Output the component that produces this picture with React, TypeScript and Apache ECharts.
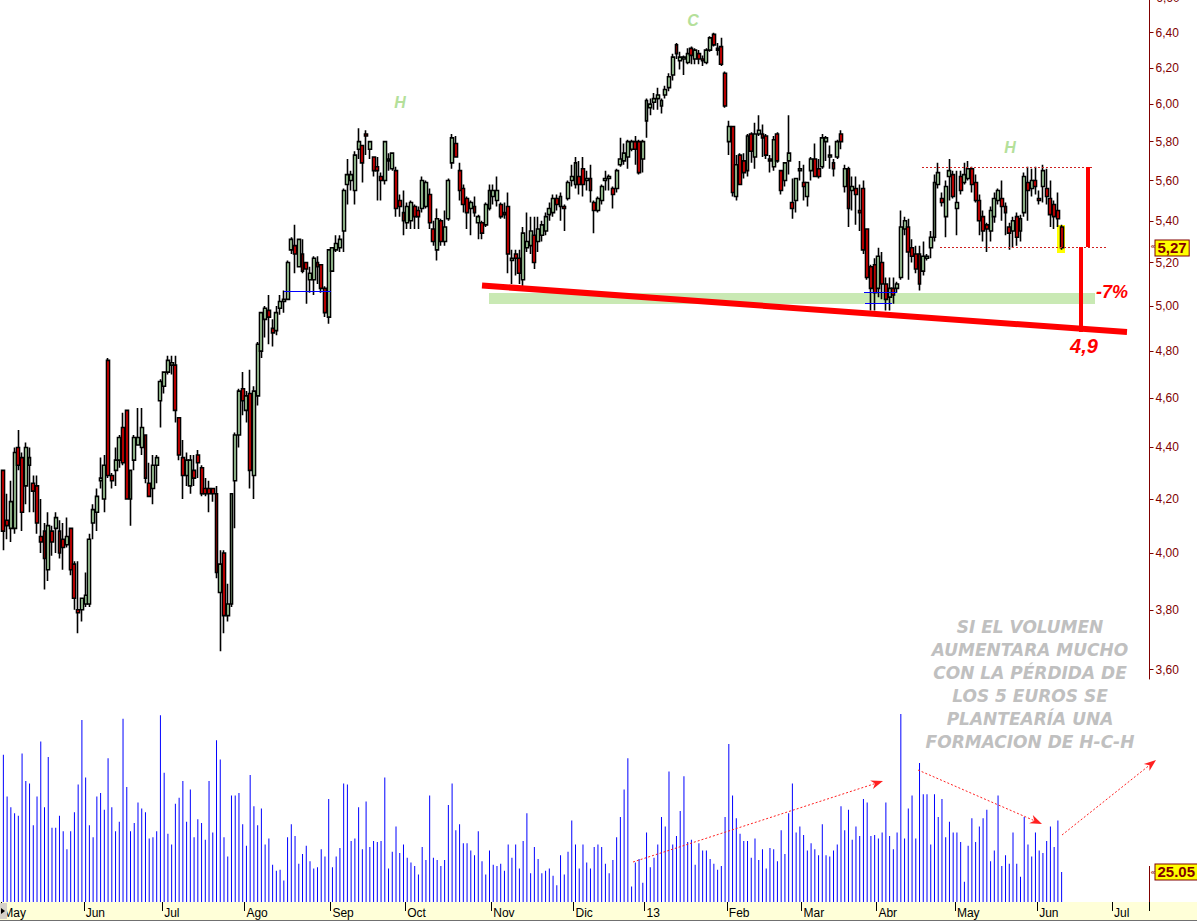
import React, { useEffect, useRef } from "react";
import * as echarts from "echarts";

// ---------- DATA ----------
const OPEN = [
  4.31,4.12,4.09,4.09,4.40,4.36,4.25,4.33,4.26,4.25,
  4.06,4.08,3.94,4.08,4.09,4.08,4.05,4.03,4.09,3.96,
  3.80,3.80,3.82,3.82,4.11,4.15,4.27,4.20,4.76,4.29,
  4.31,4.35,4.48,4.55,4.20,4.35,4.41,4.40,4.45,4.26,
  4.24,4.33,4.59,4.65,4.71,4.74,4.74,4.52,4.36,4.29,
  4.25,4.31,4.37,4.32,4.24,4.24,4.24,4.22,3.86,4.00,
  3.78,3.82,4.27,4.45,4.64,4.55,4.62,4.29,4.61,4.80,
  4.94,4.98,4.90,4.89,4.99,5.02,5.03,5.26,5.28,5.18,
  5.24,5.20,5.12,5.12,5.20,5.19,5.08,4.95,5.16,5.26,
  5.27,5.35,5.58,5.60,5.55,5.76,5.78,5.84,5.76,5.72,
  5.67,5.62,5.60,5.70,5.66,5.65,5.50,5.44,5.39,5.40,
  5.47,5.45,5.46,5.47,5.53,5.36,5.26,5.40,5.30,5.41,
  5.69,5.79,5.65,5.56,5.51,5.46,5.47,5.39,5.39,5.38,
  5.46,5.52,5.50,5.48,5.43,5.47,5.21,5.24,5.22,5.12,
  5.27,5.28,5.33,5.30,5.33,5.35,5.43,5.44,5.51,5.47,
  5.47,5.51,5.60,5.58,5.62,5.66,5.60,5.61,5.49,5.45,
  5.50,5.60,5.61,5.56,5.56,5.68,5.70,5.72,5.76,5.80,
  5.80,5.71,5.91,5.98,6.01,6.03,5.99,6.05,6.09,6.16,
  6.33,6.24,6.25,6.23,6.31,6.25,6.28,6.25,6.23,6.30,
  6.39,6.31,6.32,6.17,5.80,5.88,5.52,5.73,5.70,5.65,
  5.84,5.72,5.84,5.84,5.83,5.71,5.67,5.84,5.65,5.60,
  5.70,5.49,5.50,5.65,5.59,5.52,5.65,5.71,5.66,5.67,
  5.80,5.72,5.69,5.72,5.84,5.57,5.66,5.55,5.56,5.45,
  5.56,5.36,5.18,5.19,5.08,5.20,5.10,5.04,5.08,5.08,
  5.13,5.36,5.37,5.27,5.24,5.24,5.16,5.22,5.27,5.32,
  5.58,5.51,5.42,5.62,5.63,5.46,5.62,5.59,5.61,5.66,
  5.59,5.50,5.42,5.38,5.35,5.42,5.50,5.51,5.47,5.37,
  5.35,5.42,5.35,5.44,5.59,5.56,5.60,5.51,5.57,5.56,
  5.51,5.48,5.45,5.37,
];
const HIGH = [
  4.31,4.22,4.27,4.40,4.47,4.38,4.42,4.40,4.29,4.29,
  4.20,4.11,4.15,4.10,4.15,4.12,4.11,4.13,4.09,3.97,
  3.97,3.84,3.93,4.07,4.18,4.24,4.36,4.37,4.77,4.30,
  4.40,4.45,4.54,4.55,4.31,4.45,4.56,4.56,4.45,4.34,
  4.37,4.37,4.68,4.71,4.78,4.78,4.78,4.52,4.43,4.38,
  4.37,4.37,4.39,4.33,4.28,4.27,4.24,4.25,4.01,4.01,
  3.89,4.22,4.46,4.64,4.71,4.63,4.72,4.65,4.84,4.97,
  5.00,5.05,4.94,5.00,5.05,5.07,5.21,5.32,5.38,5.31,
  5.31,5.20,5.18,5.23,5.23,5.19,5.09,5.26,5.27,5.33,
  5.33,5.56,5.71,5.65,5.75,5.87,5.78,5.86,5.80,5.72,
  5.72,5.64,5.80,5.74,5.74,5.67,5.53,5.55,5.49,5.50,
  5.48,5.47,5.62,5.60,5.56,5.40,5.46,5.41,5.45,5.61,
  5.84,5.83,5.69,5.58,5.52,5.50,5.52,5.43,5.40,5.49,
  5.58,5.58,5.62,5.49,5.49,5.54,5.26,5.26,5.26,5.37,
  5.44,5.42,5.42,5.42,5.40,5.44,5.49,5.53,5.53,5.54,
  5.48,5.60,5.68,5.72,5.70,5.72,5.65,5.68,5.50,5.52,
  5.58,5.65,5.63,5.57,5.66,5.82,5.79,5.81,5.81,5.83,
  5.81,5.81,6.03,6.03,6.06,6.09,6.03,6.10,6.17,6.28,
  6.34,6.29,6.27,6.31,6.32,6.31,6.30,6.27,6.31,6.38,
  6.40,6.34,6.37,6.18,5.91,5.88,5.73,5.74,5.74,5.84,
  5.85,5.90,5.94,5.89,5.84,5.73,5.83,5.85,5.65,5.69,
  5.94,5.61,5.61,5.70,5.68,5.59,5.72,5.79,5.71,5.84,
  5.83,5.78,5.71,5.81,5.86,5.68,5.67,5.62,5.62,5.58,
  5.60,5.36,5.19,5.22,5.27,5.25,5.13,5.13,5.13,5.11,
  5.45,5.42,5.41,5.31,5.28,5.28,5.30,5.24,5.35,5.63,
  5.69,5.54,5.60,5.71,5.65,5.65,5.65,5.69,5.70,5.67,
  5.63,5.53,5.45,5.39,5.47,5.54,5.56,5.60,5.49,5.39,
  5.42,5.44,5.43,5.64,5.67,5.66,5.67,5.55,5.68,5.66,
  5.60,5.50,5.54,5.38,
];
const LOW = [
  4.01,4.05,4.04,4.07,4.31,4.08,4.18,4.15,4.15,4.07,
  4.00,3.87,3.90,3.99,4.00,3.98,3.94,4.02,3.92,3.80,
  3.72,3.76,3.81,3.81,4.05,4.08,4.24,4.15,4.28,4.24,
  4.25,4.32,4.33,4.20,4.10,4.31,4.41,4.37,4.26,4.21,
  4.18,4.26,4.48,4.62,4.70,4.70,4.50,4.35,4.20,4.25,
  4.22,4.25,4.28,4.21,4.21,4.15,4.19,3.91,3.66,3.72,
  3.76,3.81,4.09,4.40,4.53,4.50,4.24,4.20,4.57,4.77,
  4.86,4.83,4.82,4.87,4.96,4.97,5.03,5.24,5.15,5.18,
  5.15,5.01,5.06,5.05,5.10,5.06,4.95,4.92,5.16,5.25,
  5.25,5.25,5.48,5.55,5.48,5.71,5.59,5.73,5.71,5.62,
  5.50,5.50,5.58,5.65,5.65,5.42,5.42,5.33,5.36,5.36,
  5.36,5.36,5.44,5.46,5.36,5.28,5.21,5.28,5.28,5.40,
  5.66,5.72,5.50,5.44,5.36,5.33,5.42,5.31,5.31,5.37,
  5.45,5.48,5.47,5.41,5.41,5.15,5.10,5.14,5.10,5.08,
  5.25,5.24,5.17,5.25,5.30,5.33,5.40,5.42,5.45,5.40,
  5.35,5.50,5.57,5.56,5.53,5.52,5.55,5.49,5.34,5.44,
  5.48,5.55,5.55,5.46,5.54,5.67,5.68,5.66,5.75,5.68,
  5.63,5.64,5.82,5.94,5.97,5.97,5.95,6.03,6.07,6.13,
  6.25,6.19,6.16,6.22,6.22,6.22,6.22,6.21,6.22,6.29,
  6.32,6.27,6.21,5.98,5.73,5.52,5.50,5.58,5.61,5.62,
  5.69,5.66,5.83,5.72,5.71,5.64,5.65,5.69,5.53,5.57,
  5.63,5.41,5.44,5.60,5.50,5.47,5.60,5.62,5.61,5.66,
  5.70,5.66,5.62,5.71,5.76,5.54,5.37,5.45,5.38,5.35,
  5.24,5.12,4.98,4.98,5.04,5.03,4.98,4.98,5.01,5.06,
  5.12,5.33,5.12,5.20,5.15,5.07,5.14,5.21,5.22,5.30,
  5.56,5.47,5.32,5.50,5.51,5.33,5.53,5.58,5.60,5.54,
  5.49,5.33,5.30,5.25,5.30,5.39,5.48,5.40,5.33,5.26,
  5.27,5.28,5.30,5.42,5.40,5.52,5.53,5.48,5.49,5.48,
  5.37,5.36,5.37,5.26,
];
const CLOSE = [
  4.08,4.10,4.19,4.38,4.33,4.15,4.40,4.36,4.23,4.11,
  4.04,3.98,4.10,4.04,4.13,4.00,4.02,4.06,3.94,3.84,
  3.79,3.84,3.85,4.05,4.16,4.21,4.28,4.33,4.29,4.27,
  4.35,4.44,4.34,4.20,4.31,4.44,4.44,4.48,4.28,4.21,
  4.33,4.36,4.67,4.71,4.76,4.75,4.55,4.37,4.29,4.35,
  4.35,4.28,4.34,4.22,4.22,4.22,4.22,3.93,3.96,3.78,
  3.82,4.22,4.45,4.63,4.59,4.61,4.31,4.63,4.83,4.97,
  4.99,4.95,4.88,4.97,5.02,5.03,5.20,5.31,5.24,5.31,
  5.16,5.17,5.15,5.22,5.18,5.08,4.97,5.26,5.27,5.29,
  5.31,5.55,5.63,5.63,5.73,5.80,5.69,5.83,5.80,5.65,
  5.65,5.60,5.80,5.71,5.74,5.46,5.47,5.40,5.47,5.49,
  5.42,5.42,5.60,5.59,5.39,5.30,5.41,5.30,5.37,5.60,
  5.82,5.72,5.55,5.48,5.44,5.49,5.44,5.42,5.34,5.48,
  5.55,5.55,5.55,5.42,5.44,5.24,5.22,5.22,5.15,5.34,
  5.30,5.35,5.20,5.36,5.38,5.42,5.46,5.51,5.48,5.52,
  5.46,5.59,5.62,5.69,5.58,5.58,5.61,5.55,5.45,5.51,
  5.57,5.61,5.62,5.53,5.65,5.71,5.74,5.80,5.80,5.76,
  5.64,5.80,6.02,6.00,6.03,6.05,6.02,6.08,6.15,6.26,
  6.28,6.26,6.26,6.28,6.27,6.30,6.25,6.24,6.30,6.37,
  6.33,6.30,6.22,5.99,5.88,5.54,5.68,5.58,5.64,5.83,
  5.75,5.84,5.86,5.82,5.73,5.70,5.81,5.70,5.55,5.69,
  5.74,5.46,5.61,5.66,5.57,5.59,5.71,5.62,5.62,5.82,
  5.82,5.73,5.66,5.80,5.80,5.66,5.46,5.57,5.53,5.44,
  5.26,5.13,5.08,5.06,5.23,5.10,5.03,5.08,5.05,5.10,
  5.37,5.40,5.25,5.23,5.17,5.10,5.23,5.23,5.32,5.59,
  5.64,5.49,5.57,5.65,5.52,5.49,5.55,5.63,5.66,5.58,
  5.50,5.40,5.35,5.36,5.45,5.51,5.55,5.47,5.44,5.34,
  5.40,5.32,5.41,5.62,5.55,5.60,5.57,5.50,5.65,5.52,
  5.43,5.42,5.41,5.27,
];
const VOLUME = [
  123,88,79,74,72,124,101,99,64,88,
  134,79,121,62,62,72,59,44,59,75,
  98,152,104,64,54,88,91,77,120,79,
  59,67,153,96,59,66,83,78,75,53,
  54,59,156,108,57,48,82,87,101,67,
  94,54,69,66,52,101,58,135,119,54,
  38,89,89,91,65,47,106,80,64,78,
  48,53,31,26,27,18,54,65,55,32,
  40,47,34,28,29,44,38,86,29,38,
  45,99,98,51,53,79,44,84,46,51,
  50,51,104,28,42,63,41,48,37,33,
  30,23,46,35,89,37,35,30,35,81,
  99,60,65,49,49,43,39,59,34,23,
  43,31,30,32,26,48,37,48,28,51,
  74,24,46,36,24,26,28,22,14,39,
  23,42,68,48,28,48,33,28,46,48,
  46,32,24,35,54,71,94,120,13,33,
  36,16,58,29,37,48,71,63,109,48,
  55,76,105,50,52,31,49,43,43,36,
  32,27,30,71,132,89,70,57,51,51,
  37,53,35,44,28,45,44,34,60,40,
  74,99,58,63,56,43,49,44,39,65,
  39,38,43,48,80,60,77,52,63,55,
  86,83,55,56,53,58,83,55,44,58,
  157,53,78,89,53,116,90,90,48,90,
  71,86,54,67,58,58,50,17,47,70,
  50,63,70,77,34,43,89,30,39,32,
  58,32,21,71,48,38,58,43,41,51,
  63,46,68,25.05,
];

const FIRST_DAY = [2012, 4, 2]; // 2 May 2012
const HOLIDAYS = ["2012-12-25", "2012-12-26", "2013-01-01", "2013-03-29", "2013-04-01", "2013-05-01"];
const FUTURE_DAYS = 23;
const MONTH_NAMES = ["Ene", "Feb", "Mar", "Abr", "May", "Jun", "Jul", "Ago", "Sep", "Oct", "Nov", "Dic"];
const PRICE_TICKS = [3.6, 3.8, 4.0, 4.2, 4.4, 4.6, 4.8, 5.0, 5.2, 5.4, 5.6, 5.8, 6.0, 6.2, 6.4];
const PRICE_MIN = 3.5697;
const PRICE_MAX = 6.5917;
const VOLUME_MAX = 165.3;
const LAST_PRICE = 5.27;
const LAST_VOLUME = 25.05;
const NOTE_LINES = [
  "SI EL VOLUMEN",
  "AUMENTARA MUCHO",
  "CON LA PÉRDIDA DE",
  "LOS 5 EUROS SE",
  "PLANTEARÍA UNA",
  "FORMACION DE H-C-H",
];

const FONT = '"Liberation Sans", Arial, sans-serif';

function buildDays(count: number): string[] {
  const out: string[] = [];
  let t = Date.UTC(FIRST_DAY[0], FIRST_DAY[1], FIRST_DAY[2]);
  while (out.length < count) {
    const d = new Date(t);
    const wd = d.getUTCDay();
    const s = d.toISOString().slice(0, 10);
    if (wd !== 0 && wd !== 6 && HOLIDAYS.indexOf(s) < 0) out.push(s);
    t += 86400000;
  }
  return out;
}

function arrow(x1: number, y1: number, x2: number, y2: number, color: string) {
  const a = Math.atan2(y2 - y1, x2 - x1);
  const c = Math.cos(a), s = Math.sin(a);
  const L = 12, W = 4.5;
  return [
    {
      type: "line",
      z: 20,
      shape: { x1, y1, x2: x2 - c * L * 0.7, y2: y2 - s * L * 0.7 },
      style: { stroke: color, lineWidth: 1, lineDash: [2, 2] },
    },
    {
      type: "polygon",
      z: 20,
      shape: {
        points: [
          [x2, y2],
          [x2 - c * L + s * W, y2 - s * L - c * W],
          [x2 - c * L * 0.7, y2 - s * L * 0.7],
          [x2 - c * L - s * W, y2 - s * L + c * W],
        ],
      },
      style: { fill: color },
    },
  ];
}

function txt(x: number, y: number, text: string, font: string, fill: string, z = 20) {
  return {
    type: "text",
    x,
    y,
    z,
    style: {
      text,
      font,
      fill,
      align: "center",
      verticalAlign: "middle",
      textAlign: "center",
      textVerticalAlign: "middle",
    },
  };
}

const markerLabel = (text: string, size: number, dy: number) => ({
  show: true,
  position: "end",
  distance: 6,
  offset: [0, dy],
  formatter: () => text,
  backgroundColor: "#ffff00",
  borderColor: "#800000",
  borderWidth: 1,
  padding: [1, 2, 0, 2],
  lineHeight: size - 1,
  color: "#800000",
  fontWeight: "bold",
  fontSize: size,
  fontFamily: FONT,
});

export default function App() {
  const ref = useRef<HTMLDivElement>(null);

  useEffect(() => {
    if (!ref.current) return;
    const chart = echarts.init(ref.current, undefined, { renderer: "svg" });

    const days = buildDays(CLOSE.length + FUTURE_DAYS);
    const isMonthStart = (i: number) =>
      i === 0 || days[i].slice(5, 7) !== days[i - 1].slice(5, 7);
    const monthLabel = (v: string) => {
      const y = v.slice(2, 4);
      const m = parseInt(v.slice(5, 7), 10) - 1;
      return m === 0 ? y : MONTH_NAMES[m];
    };

    const candles = CLOSE.map((c, i) => [
      Math.log(OPEN[i]),
      Math.log(c),
      Math.log(LOW[i]),
      Math.log(HIGH[i]),
    ]);
    const logTicks = PRICE_TICKS.map((p) => Math.log(p));

    const red = "#ff0000";
    const graphics: any[] = [
      // bottom time band
      { type: "rect", z: -10, shape: { x: 0, y: 902, width: 1197, height: 19 }, style: { fill: "#ffffd8" } },
      { type: "line", z: 30, shape: { x1: 0, y1: 920.5, x2: 1197, y2: 920.5 }, style: { stroke: "#707070", lineWidth: 1 } },
      { type: "rect", z: 30, shape: { x: 0, y: 903, width: 7, height: 16 }, style: { fill: "#d4d0c8" } },
      { type: "polygon", z: 31, shape: { points: [[1, 908], [1, 914], [5, 911]] }, style: { fill: "#000" } },
      // green target band
      { type: "rect", z: 1, shape: { x: 489, y: 293, width: 606, height: 11 }, style: { fill: "#c9e9b4" } },
      // yellow highlight of the last candle
      { type: "rect", z: 1, shape: { x: 1057, y: 225, width: 8, height: 28 }, style: { fill: "#ffff00" } },
      // neckline
      { type: "line", z: 15, shape: { x1: 482, y1: 285.5, x2: 1127, y2: 332 }, style: { stroke: red, lineWidth: 6 } },
      // range lines
      { type: "line", z: 15, shape: { x1: 922, y1: 167.5, x2: 1092, y2: 167.5 }, style: { stroke: "#d02020", lineWidth: 1, lineDash: [2, 2] } },
      { type: "line", z: 15, shape: { x1: 940, y1: 247.5, x2: 1107, y2: 247.5 }, style: { stroke: "#d02020", lineWidth: 1, lineDash: [2, 2] } },
      { type: "line", z: 15, shape: { x1: 1088, y1: 167, x2: 1088, y2: 247 }, style: { stroke: red, lineWidth: 4 } },
      { type: "line", z: 15, shape: { x1: 1081, y1: 247, x2: 1081, y2: 332 }, style: { stroke: red, lineWidth: 4 } },
      // blue marks
      { type: "line", z: 15, shape: { x1: 284, y1: 291.5, x2: 331, y2: 291.5 }, style: { stroke: "#0000ff", lineWidth: 1 } },
      { type: "line", z: 15, shape: { x1: 864, y1: 292.5, x2: 897, y2: 292.5 }, style: { stroke: "#0000ff", lineWidth: 1 } },
      { type: "line", z: 15, shape: { x1: 865, y1: 303.5, x2: 892, y2: 303.5 }, style: { stroke: "#0000ff", lineWidth: 1 } },
      // labels
      txt(400, 102, "H", `italic bold 16px ${FONT}`, "#b4e09a"),
      txt(693, 20, "C", `italic bold 16px ${FONT}`, "#b4e09a"),
      txt(1010, 147, "H", `italic bold 16px ${FONT}`, "#b4e09a"),
      txt(1112, 292, "-7%", `italic bold 18px ${FONT}`, red),
      txt(1084, 346, "4,9", `italic bold 20px ${FONT}`, red),
      txt(1168, -2, "6,60", `12px ${FONT}`, "#800000"),
      txt(1153, 246, "«", `8px ${FONT}`, "#800000"),
      txt(1153, 872, "«", `8px ${FONT}`, "#800000"),
      // volume axis stub
      { type: "line", z: 15, shape: { x1: 1149.5, y1: 866, x2: 1149.5, y2: 902 }, style: { stroke: "#800000", lineWidth: 1 } },
      ...arrow(633, 862, 883, 781, "#ff2020"),
      ...arrow(918, 770, 1042, 824, "#ff2020"),
      ...arrow(1062, 835, 1156, 760, "#ff2020"),
    ];
    NOTE_LINES.forEach((line, k) => {
      graphics.push(
        txt(1030, 627 + k * 23, line, 'italic bold 17px "DejaVu Sans", sans-serif', "#c0c0c0")
      );
    });

    const gridLeft = 1.5;
    const gridWidth = 1148;

    chart.setOption({
      animation: false,
      backgroundColor: "#ffffff",
      grid: [
        { left: gridLeft, width: gridWidth, top: 0, height: 679 },
        { left: gridLeft, width: gridWidth, top: 704, height: 198 },
      ],
      xAxis: [
        {
          type: "category",
          gridIndex: 0,
          data: days,
          boundaryGap: true,
          show: false,
        },
        {
          type: "category",
          gridIndex: 1,
          data: days,
          boundaryGap: true,
          z: 10,
          axisLine: { show: false },
          axisTick: {
            show: true,
            interval: (i: number) => isMonthStart(i),
            length: 9,
            lineStyle: { color: "#000", width: 1 },
          },
          axisLabel: {
            show: true,
            interval: (i: number) => isMonthStart(i),
            formatter: (v: string) => monthLabel(v),
            align: "left",
            color: "#000",
            fontSize: 12,
            fontFamily: FONT,
            margin: 5,
          },
          splitLine: { show: false },
        },
      ],
      yAxis: [
        {
          type: "value",
          gridIndex: 0,
          position: "right",
          min: Math.log(PRICE_MIN),
          max: Math.log(PRICE_MAX),
          splitLine: { show: false },
          axisLine: { show: true, lineStyle: { color: "#800000", width: 1 } },
          axisTick: {
            show: true,
            customValues: logTicks,
            length: 4,
            lineStyle: { color: "#800000" },
          },
          axisLabel: {
            show: true,
            customValues: logTicks,
            formatter: (v: number) => Math.exp(v).toFixed(2).replace(".", ","),
            color: "#800000",
            fontSize: 12,
            lineHeight: 12,
            fontFamily: FONT,
            margin: 6,
          },
        },
        {
          type: "value",
          gridIndex: 1,
          position: "right",
          min: 0,
          max: VOLUME_MAX,
          show: false,
          splitLine: { show: false },
        },
      ],
      series: [
        {
          type: "candlestick",
          xAxisIndex: 0,
          yAxisIndex: 0,
          data: candles,
          barWidth: 3.4,
          z: 5,
          itemStyle: {
            color: "#c4f7bc",
            color0: "#ff0000",
            borderColor: "#000000",
            borderColor0: "#000000",
            borderWidth: 1.6,
          },
          markLine: {
            silent: true,
            symbol: "none",
            lineStyle: { width: 0, color: "rgba(0,0,0,0)", type: "solid" },
            data: [{ yAxis: Math.log(LAST_PRICE) }],
            label: markerLabel(LAST_PRICE.toFixed(2).replace(".", ","), 15, -2),
          },
        },
        {
          type: "bar",
          xAxisIndex: 1,
          yAxisIndex: 1,
          data: VOLUME,
          barWidth: 1,
          itemStyle: { color: "#0000ff" },
          markLine: {
            silent: true,
            symbol: "none",
            lineStyle: { width: 0, color: "rgba(0,0,0,0)", type: "solid" },
            data: [{ yAxis: LAST_VOLUME }],
            label: markerLabel(LAST_VOLUME.toFixed(2), 15, 0),
          },
        },
      ],
      graphic: graphics,
    });

    return () => chart.dispose();
  }, []);

  return (
    <div
      ref={ref}
      style={{ position: "absolute", left: 0, top: 0, width: 1197, height: 921, background: "#fff" }}
    />
  );
}
